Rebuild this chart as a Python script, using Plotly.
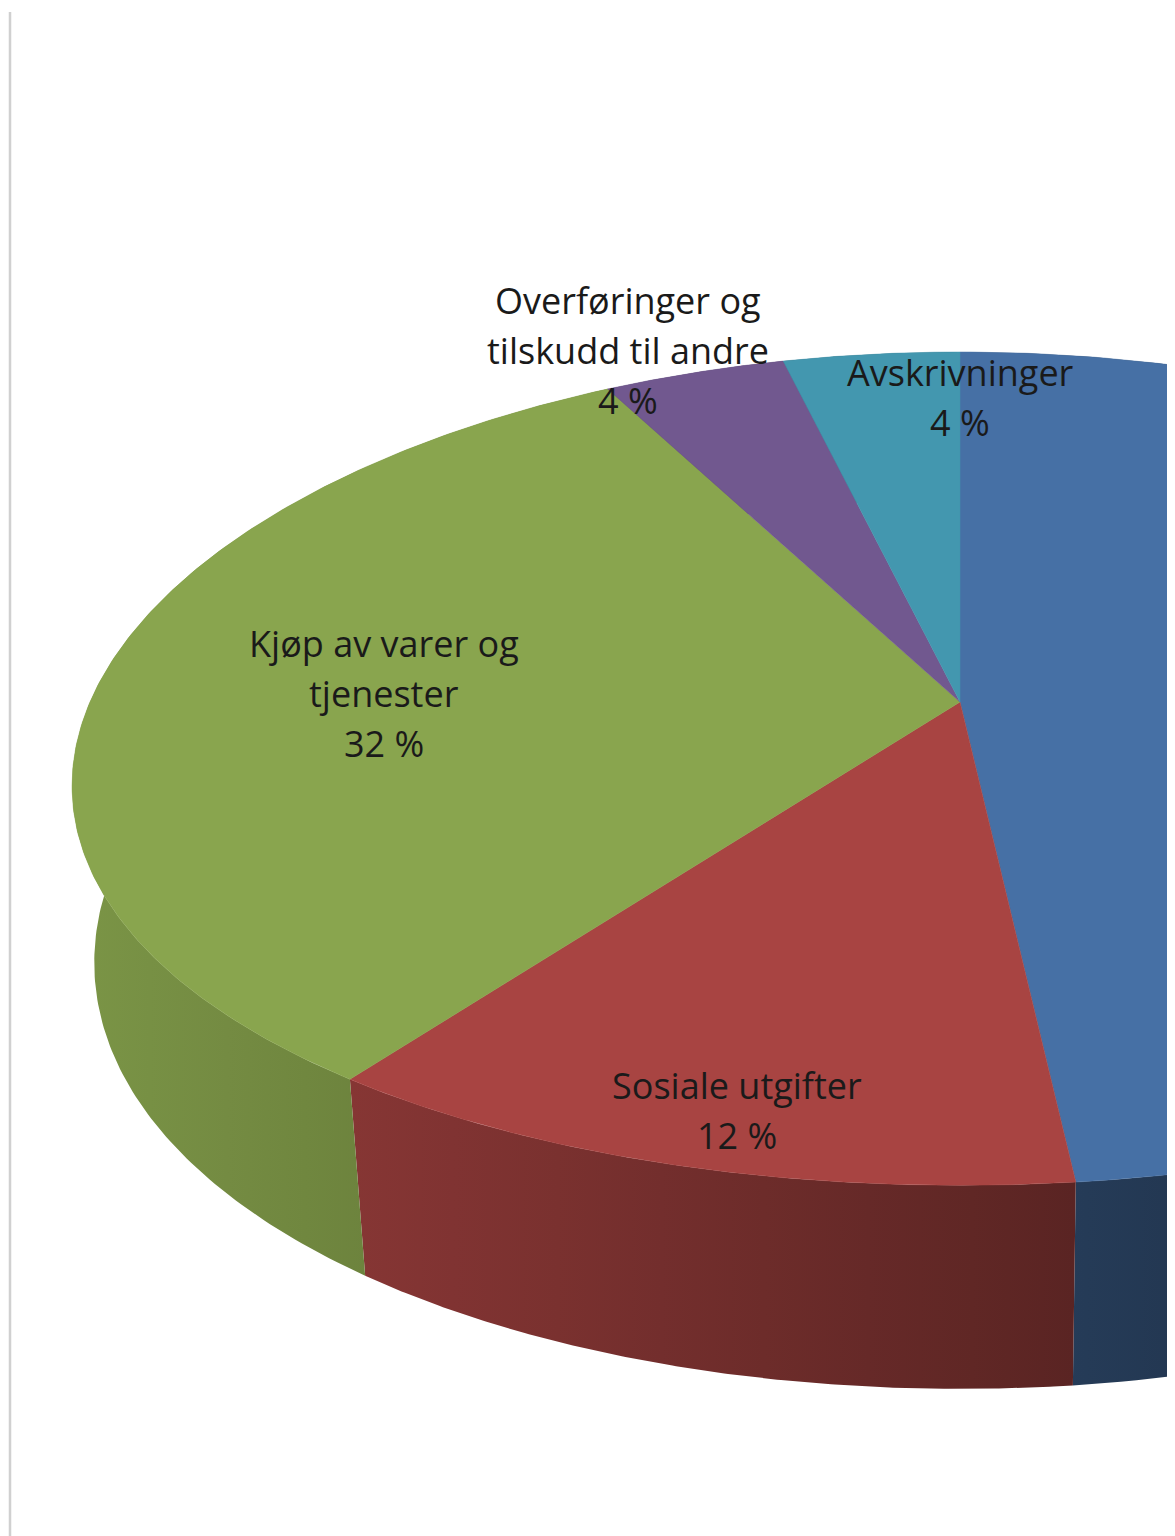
import numpy as np
import plotly.graph_objects as go

# ---- data (clockwise from 12 o'clock); shares estimated from the slice geometry ----
categories = ["Lønnsutgifter", "Sosiale utgifter", "Kjøp av varer og tjenester",
              "Overføringer og tilskudd til andre", "Avskrivninger"]
values = [48.3, 11.7, 32.1, 4.0, 3.9]
top_colors = ["#4670a5", "#a84442", "#89a54e", "#71588f", "#4397af"]

# label name lines (blue slice label lies outside the visible crop)
label_names = {
    "Sosiale utgifter": ["Sosiale utgifter"],
    "Kjøp av varer og tjenester": ["Kjøp av varer og", "tjenester"],
    "Overføringer og tilskudd til andre": ["Overføringer og", "tilskudd til andre"],
    "Avskrivninger": ["Avskrivninger"],
}
label_pos = {
    "Sosiale utgifter": (737, 1085),
    "Kjøp av varer og tjenester": (384, 643),
    "Overføringer og tilskudd til andre": (628, 300),
    "Avskrivninger": (960, 372),
}
line_gap = 50

# ---- projection parameters (pixel-like data space) ----
cx, cy = 960, 702
A, kx = 870, 0.20
B, ky = 406, 0.16
H, shrink = 171, 0.975
OFF = 8  # page body margin


def top_pt(theta):
    u, v = np.sin(theta), -np.cos(theta)
    return cx + A * u / (1 - kx * v), cy + B * v / (1 - ky * v)


def bot_pt(theta):
    xt, yt = top_pt(theta)
    v = -np.cos(theta)
    return cx + shrink * (xt - cx), yt + H / (1 - ky * v)


def hex2rgb(h):
    h = h.lstrip("#")
    return tuple(int(h[i:i + 2], 16) for i in (0, 2, 4))


def shade(hexc, f):
    r, g, b = hex2rgb(hexc)
    return "rgb(%d,%d,%d)" % (r * f, g * f, b * f)


def fshade(x):
    return max(0.3, 0.93 - 0.000365 * x)


total = float(sum(values))
bounds = np.concatenate([[0], np.cumsum(values)]) / total * 2 * np.pi

fig = go.Figure()

# side walls first
for i, (cat, col) in enumerate(zip(categories, top_colors)):
    th = np.linspace(bounds[i], bounds[i + 1], 200)
    tx, ty = top_pt(th)
    bx, by = bot_pt(th[::-1])
    xs = np.concatenate([tx, bx, tx[:1]])
    ys = np.concatenate([ty, by, ty[:1]])
    x0, x1 = xs.min(), xs.max()
    stops = np.linspace(0, 1, 8)
    cscale = [[float(s), shade(col, fshade(x0 + s * (x1 - x0)))] for s in stops]
    fig.add_trace(go.Scatter(
        x=xs, y=ys, mode="lines", fill="toself",
        line=dict(width=0, color=shade(col, 0.6)),
        fillgradient=dict(type="horizontal", colorscale=cscale, start=x0, stop=x1),
        hoverinfo="skip", showlegend=False))

# top faces
for i, (cat, col) in enumerate(zip(categories, top_colors)):
    th = np.linspace(bounds[i], bounds[i + 1], 200)
    tx, ty = top_pt(th)
    xs = np.concatenate([[cx], tx, [cx]])
    ys = np.concatenate([[cy], ty, [cy]])
    fig.add_trace(go.Scatter(
        x=xs, y=ys, mode="lines", fill="toself", fillcolor=col,
        line=dict(width=0.5, color=col), name=cat,
        hoverinfo="name", showlegend=False))

annotations = []
for cat, val in zip(categories, values):
    if cat not in label_names:
        continue
    lx, ly = label_pos[cat]
    lines = label_names[cat] + ["%d %%" % round(val / total * 100)]
    for j, t in enumerate(lines):
        annotations.append(dict(
            x=lx, y=ly + j * line_gap, xref="x", yref="y", text=t,
            showarrow=False, xanchor="center", yanchor="middle",
            font=dict(family="Open Sans, sans-serif", size=36, color="#1a1a1a")))

fig.update_layout(
    width=1175, height=1536,
    margin=dict(l=0, r=0, t=0, b=0),
    paper_bgcolor="white", plot_bgcolor="white",
    xaxis=dict(range=[OFF, 1175 + OFF], visible=False, showgrid=False, zeroline=False),
    yaxis=dict(range=[1536 + OFF, OFF], visible=False, showgrid=False, zeroline=False),
    annotations=annotations,
    shapes=[dict(type="line", xref="x", yref="y", x0=10, x1=10, y0=12, y1=1536 + OFF,
                 line=dict(color="#d0d0d0", width=2.5))],
)

fig.write_html("out.html")
